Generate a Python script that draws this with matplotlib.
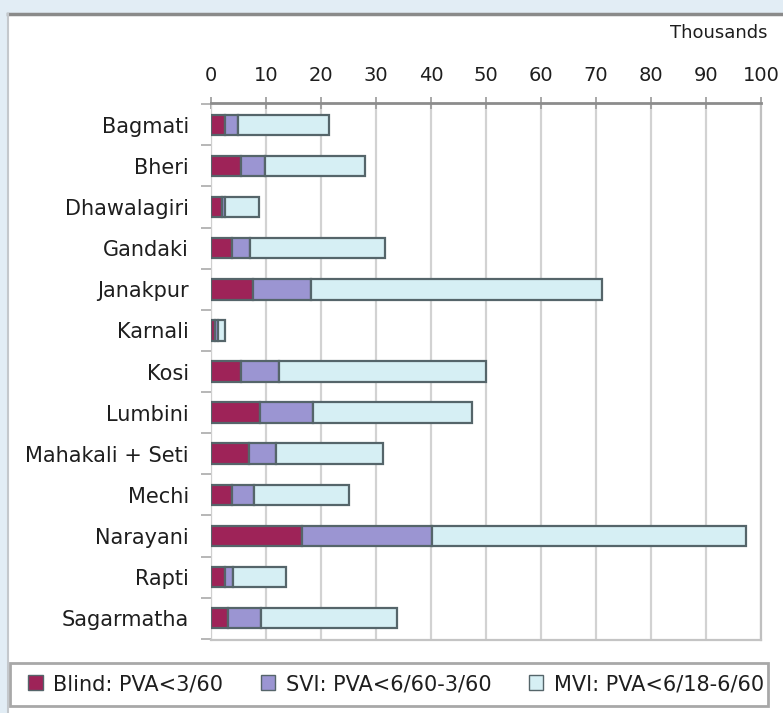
#!/usr/bin/env python3

import matplotlib
matplotlib.use("Agg")
import matplotlib.pyplot as plt
from matplotlib.patches import Rectangle, Patch
from matplotlib.lines import Line2D

# Visual impairment by zone, in thousands of people
zones = ["Bagmati", "Bheri", "Dhawalagiri", "Gandaki", "Janakpur", "Karnali",
         "Kosi", "Lumbini", "Mahakali + Seti", "Mechi", "Narayani", "Rapti",
         "Sagarmatha"]
blind = [2.5, 5.4, 2.0, 3.8, 7.7, 0.8, 5.4, 8.9, 6.9, 3.8, 16.5, 2.5, 3.1]
svi = [2.4, 4.4, 0.5, 3.3, 10.4, 0.5, 7.0, 9.6, 4.9, 4.0, 23.7, 1.5, 6.0]
mvi = [16.6, 18.2, 6.3, 24.5, 52.9, 1.2, 37.6, 28.9, 19.4, 17.2, 57.1, 9.7, 24.8]

labels = ["Blind: PVA<3/60", "SVI: PVA<6/60-3/60", "MVI: PVA<6/18-6/60"]
colors = ["#9e2358", "#9b95d2", "#d6eff4"]
edge = "#55656a"
xticks = list(range(0, 101, 10))

W, H = 783, 713


def main():
    plt.rcParams["font.family"] = ["DejaVu Sans"]
    fig = plt.figure(figsize=(W / 100, H / 100), dpi=100, facecolor="#e2edf5")

    # white panel with a grey top border, kept behind the axes
    fig.patches.append(Rectangle((8 / W, 0), 1, 1 - 14 / H, transform=fig.transFigure,
                                 facecolor="white", edgecolor="none", zorder=-10))
    fig.lines.append(Line2D([8 / W, 1], [1 - 14 / H] * 2, transform=fig.transFigure,
                            color="#8a8a8a", lw=2.5, zorder=-5))
    fig.lines.append(Line2D([8 / W] * 2, [0, 1 - 14 / H], transform=fig.transFigure,
                            color="#c4c8cc", lw=1.5, zorder=-5))

    ax = fig.add_axes([211 / W, 1 - 640 / H, 550 / W, 537 / H])
    ax.set_facecolor("white")

    y = list(range(len(zones)))
    left = [0] * len(zones)
    for vals, c in zip([blind, svi, mvi], colors):
        ax.barh(y, vals, left=left, height=0.5, color=c, edgecolor=edge,
                linewidth=1.6, zorder=3)
        left = [a + b for a, b in zip(left, vals)]

    ax.set_xlim(0, 100)
    ax.set_ylim(len(zones) - 0.47, -0.53)
    ax.set_xticks(xticks)
    ax.xaxis.tick_top()
    ax.tick_params(axis="x", direction="inout", length=8, width=1.2, colors="#999999",
                   labelcolor="#1e1e1e", labelsize=14, pad=9)
    ax.set_yticks(y)
    ax.set_yticklabels(zones)
    ax.set_yticks([i + 0.5 for i in range(-1, len(zones))], minor=True)
    ax.tick_params(axis="y", which="major", length=0, labelsize=15, pad=16,
                   labelcolor="#1e1e1e")
    ax.tick_params(axis="y", which="minor", length=7, width=1.2, color="#aaaaaa")

    ax.grid(axis="x", color="#d2d2d2", lw=1.6, zorder=0)
    ax.spines["top"].set_color("#8c8c8c")
    ax.spines["top"].set_linewidth(2)
    ax.spines["right"].set_color("#c0c0c0")
    ax.spines["right"].set_linewidth(1.6)
    ax.spines["bottom"].set_color("#c4c4c4")
    ax.spines["bottom"].set_linewidth(1.6)
    ax.spines["left"].set_color("#cfcfcf")

    fig.text(768 / W, 1 - 33 / H, "Thousands", ha="right", va="center",
             fontsize=13, color="#1e1e1e")

    # legend strip at the bottom
    fig.patches.append(Rectangle((10 / W, 1 - 706 / H), 758 / W, 43 / H,
                                 transform=fig.transFigure, facecolor="white",
                                 edgecolor="#a8a8a8", lw=2, zorder=-4))
    handles = [Patch(facecolor=c, edgecolor=edge, lw=1) for c in colors]
    fig.legend(handles, labels, ncol=3, loc="center", frameon=False,
               bbox_to_anchor=(396 / W, 1 - 684 / H), fontsize=15,
               handlelength=0.7, handleheight=0.7, handletextpad=0.5,
               columnspacing=1.8, labelcolor="#1e1e1e")

    fig.savefig("out.png", dpi=100, facecolor=fig.get_facecolor())


if __name__ == "__main__":
    main()
